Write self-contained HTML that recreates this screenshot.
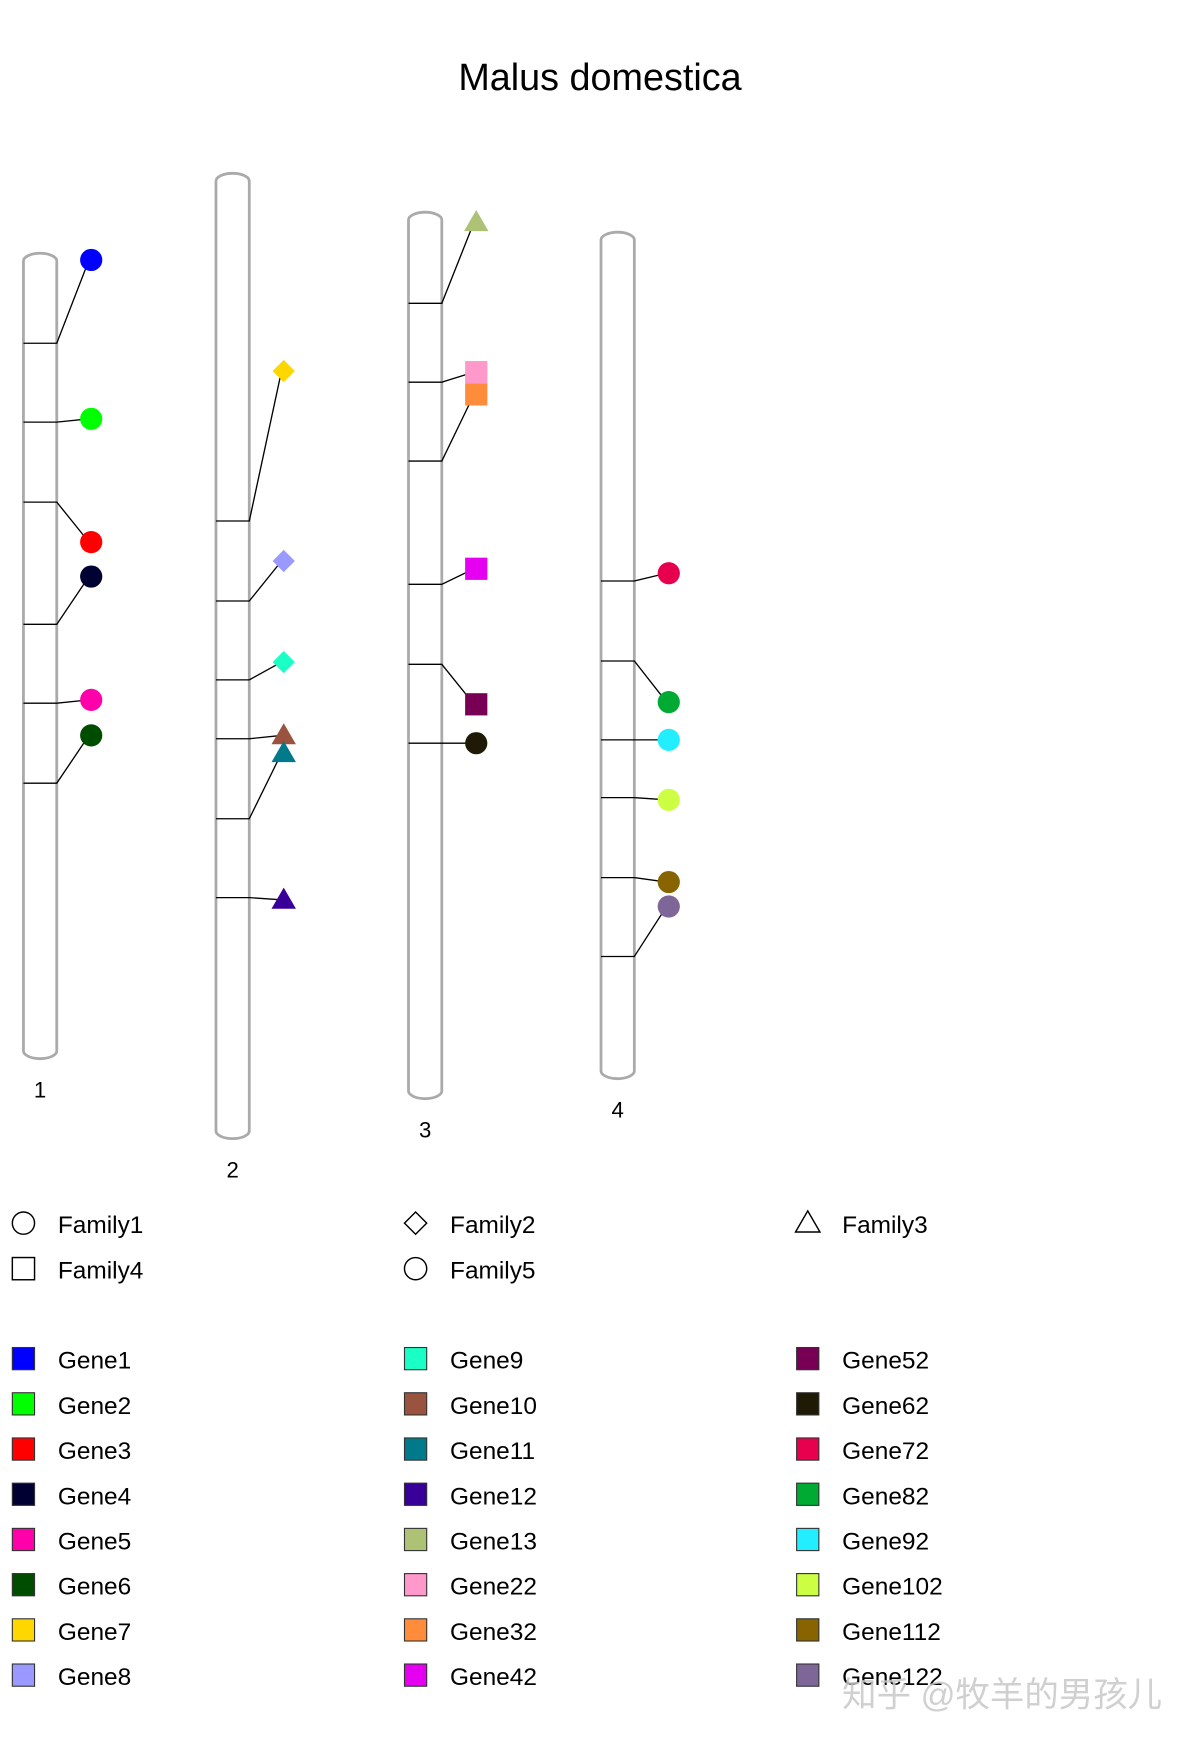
<!DOCTYPE html>
<html><head><meta charset="utf-8"><style>
html,body{margin:0;padding:0;background:#fff;}
svg{display:block;font-family:"Liberation Sans","Noto Sans CJK SC",sans-serif;}
</style></head><body>
<svg id="chart" width="1200" height="1743" viewBox="0 0 1080 1569" xmlns="http://www.w3.org/2000/svg">
<text x="540" y="81" font-size="34" text-anchor="middle">Malus domestica</text>
<g id="chroms"></g>
<g id="genes"></g>
<g id="legend"></g>
<text x="758" y="1536" font-size="31" fill="#c8c8c8" opacity="0.85">知乎 @牧羊的男孩儿</text>
</svg>
<script>
// chromosome data
const chromNames = ['1','2','3','4'];
const chromStarts = [228, 156, 191, 209];     // top offsets
const chromLengths = [725, 869, 798, 762];    // length units
// gene data
const geneNames = ['Gene1','Gene2','Gene3','Gene4','Gene5','Gene6','Gene7','Gene8','Gene9','Gene10','Gene11','Gene12','Gene13','Gene22','Gene32','Gene42','Gene52','Gene62','Gene72','Gene82','Gene92','Gene102','Gene112','Gene122'];
const geneChrom = [0,0,0,0,0,0,1,1,1,1,1,1,2,2,2,2,2,2,3,3,3,3,3,3];
const genePos = [81,152,224,334,405,477,313,385,456,509,581,652,82,153,224,335,407,478,314,386,457,509,581,652];
const geneLabelPos = [6,149,260,291,402,434,178,349,440,506,522,654,9,144,164,321,443,478,307,423,457,511,585,607];
const geneFamily = [0,0,0,0,0,0,1,1,1,2,2,2,2,3,3,3,3,4,0,0,0,0,0,0];
const geneColors = ['#0000ff','#00ff00','#ff0000','#000033','#ff00aa','#004d00','#ffd700','#9999ff','#1affc6','#99533f','#007a8a','#380099','#aec276','#ff99cc','#ff8c3a','#e600f2','#770055','#1f1a05','#e6004d','#00aa33','#22eeff','#ccff44','#886400','#7f6699'];
const familyNames = ['Family1','Family2','Family3','Family4','Family5'];
const familyShapes = ['circle','diamond','triangle','square','circle'];

const NS='http://www.w3.org/2000/svg';
function mk(tag, attrs, parent){const e=document.createElementNS(NS,tag);for(const k in attrs)e.setAttribute(k,attrs[k]);parent.appendChild(e);return e;}
const chromX = i => 21 + i*173.3;
const chromW = 30;
const yScale = (c, v) => chromStarts[c] + v;

const gC=document.getElementById('chroms');
chromNames.forEach((n,i)=>{
  const x=chromX(i);
  const r=mk('rect',{x:x,y:chromStarts[i],width:chromW,height:chromLengths[i],rx:15,ry:7,fill:'#fff',stroke:'#aaaaaa','stroke-width':2.5},gC);
  
  
  const t=mk('text',{x:x+chromW/2,y:chromStarts[i]+chromLengths[i]+35,'font-size':20,'text-anchor':'middle'},gC);
  t.textContent=n;
  
  
});

function drawShape(shape,cx,cy,s,fill,stroke,parent){
  let e;
  if(shape==='circle') e=mk('circle',{cx:cx,cy:cy,r:s},parent);
  else if(shape==='square') e=mk('rect',{x:cx-s,y:cy-s,width:2*s,height:2*s},parent);
  else if(shape==='diamond') e=mk('polygon',{points:`${cx},${cy-s} ${cx+s},${cy} ${cx},${cy+s} ${cx-s},${cy}`},parent);
  else e=mk('polygon',{points:`${cx},${cy-s*1.1} ${cx+s*1.1},${cy+s*0.8} ${cx-s*1.1},${cy+s*0.8}`},parent);
  e.setAttribute('fill',fill); if(stroke){e.setAttribute('stroke',stroke);e.setAttribute('stroke-width',1.3);}
  return e;
}

const gG=document.getElementById('genes');
geneNames.forEach((g,i)=>{
  const c=geneChrom[i], x=chromX(c), y=yScale(c,genePos[i]), ly=yScale(c,geneLabelPos[i]);
  const mx=x+chromW+31;
  const p=mk('polyline',{points:`${x},${y} ${x+chromW},${y} ${mx-2},${ly}`,fill:'none',stroke:'#000','stroke-width':1.2},gG);
  
  
  const m=drawShape(familyShapes[geneFamily[i]],mx,ly,10,geneColors[i],null,gG);
  
  
});

const gL=document.getElementById('legend');
const colX=[21,374,727];
familyNames.forEach((f,i)=>{
  const cx=colX[i%3], cy=1101+Math.floor(i/3)*41;
  const s=drawShape(familyShapes[i],cx,cy,10,'none','#000',gL);
  
  
  const t=mk('text',{x:cx+31,y:cy+9,'font-size':22},gL);
  t.textContent=f;
  
  
});
geneNames.forEach((g,i)=>{
  const cx=colX[Math.floor(i/8)], cy=1223+(i%8)*40.7;
  const s=mk('rect',{x:cx-10,y:cy-10,width:20,height:20,fill:geneColors[i],stroke:'#333','stroke-width':1},gL);
  
  
  const t=mk('text',{x:cx+31,y:cy+9,'font-size':22},gL);
  t.textContent=g;
  
  
});
</script>
</body></html>
